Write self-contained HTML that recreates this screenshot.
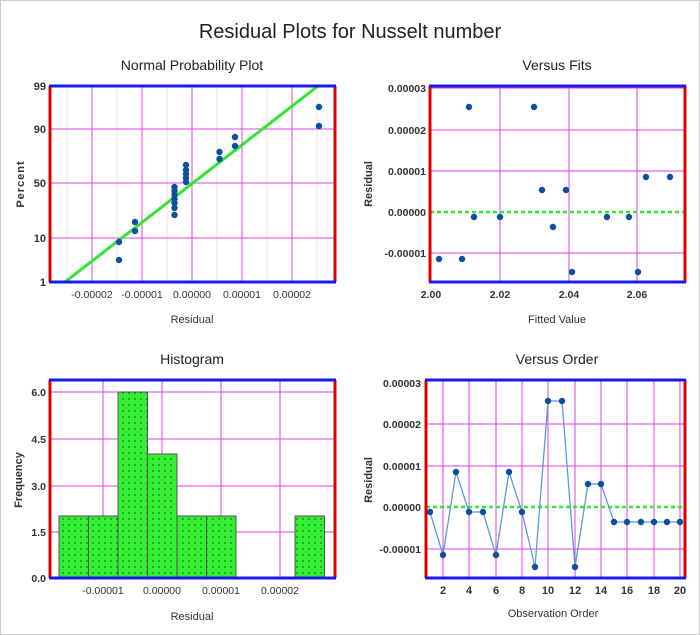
<!DOCTYPE html><html><head><style>body{margin:0;background:#fff}svg{display:block}</style></head><body>
<svg width="700" height="635" xmlns="http://www.w3.org/2000/svg" font-family="Liberation Sans, sans-serif">
<rect x="0.5" y="0.5" width="699" height="634" fill="#fff" stroke="#ccc"/>
<text x="350" y="38" font-size="20" text-anchor="middle" fill="#222">Residual Plots for Nusselt number</text>
<g font-size="14" text-anchor="middle" fill="#222">
<text x="192" y="70">Normal Probability Plot</text>
<text x="557" y="70">Versus Fits</text>
<text x="192" y="364">Histogram</text>
<text x="557" y="364">Versus Order</text>
</g>
<g font-size="11" text-anchor="middle" fill="#333">
<text x="192" y="323">Residual</text>
<text x="557" y="323">Fitted Value</text>
<text x="192" y="620">Residual</text>
<text x="553" y="617">Observation Order</text>
<text transform="translate(24,184) rotate(-90)" font-weight="bold" letter-spacing="1">Percent</text>
<text transform="translate(372,184) rotate(-90)" font-weight="bold">Residual</text>
<text transform="translate(22,480) rotate(-90)" font-weight="bold">Frequency</text>
<text transform="translate(372,480) rotate(-90)" font-weight="bold">Residual</text>
</g>
<!-- Panel 1 -->
<g stroke="#e4e4e4" stroke-width="1"><line x1="67" y1="86" x2="67" y2="282"/><line x1="117" y1="86" x2="117" y2="282"/><line x1="167" y1="86" x2="167" y2="282"/><line x1="217" y1="86" x2="217" y2="282"/><line x1="267" y1="86" x2="267" y2="282"/><line x1="317" y1="86" x2="317" y2="282"/></g>
<g stroke="#e040e0" stroke-width="1"><line x1="92" y1="86" x2="92" y2="282"/><line x1="142" y1="86" x2="142" y2="282"/><line x1="192" y1="86" x2="192" y2="282"/><line x1="242" y1="86" x2="242" y2="282"/><line x1="292" y1="86" x2="292" y2="282"/><line x1="50" y1="129" x2="335" y2="129"/><line x1="50" y1="183" x2="335" y2="183"/><line x1="50" y1="238" x2="335" y2="238"/></g>
<line x1="65" y1="282" x2="318" y2="86" stroke="#33e633" stroke-width="3"/>
<g fill="#0b4fa0"><circle cx="119" cy="242" r="3.2"/><circle cx="119" cy="260" r="3.2"/><circle cx="135" cy="222" r="3.2"/><circle cx="135" cy="231" r="3.2"/>
<circle cx="174.5" cy="187" r="3.2"/><circle cx="174.5" cy="191" r="3.2"/><circle cx="174.5" cy="195" r="3.2"/><circle cx="174.5" cy="199" r="3.2"/><circle cx="174.5" cy="203" r="3.2"/><circle cx="174.5" cy="208" r="3.2"/><circle cx="174.5" cy="215" r="3.2"/>
<circle cx="186" cy="165" r="3.2"/><circle cx="186" cy="170" r="3.2"/><circle cx="186" cy="174" r="3.2"/><circle cx="186" cy="178" r="3.2"/><circle cx="186" cy="182" r="3.2"/>
<circle cx="219.5" cy="152" r="3.2"/><circle cx="219.5" cy="159" r="3.2"/><circle cx="235" cy="137" r="3.2"/><circle cx="235" cy="146" r="3.2"/><circle cx="319" cy="107" r="3.2"/><circle cx="319" cy="126" r="3.2"/></g>
<line x1="50" y1="86" x2="50" y2="282" stroke="#d00" stroke-width="3"/><line x1="335" y1="86" x2="335" y2="282" stroke="#d00" stroke-width="3"/>
<line x1="49" y1="86" x2="336" y2="86" stroke="#1a1ae6" stroke-width="3"/><line x1="49" y1="282" x2="336" y2="282" stroke="#1a1ae6" stroke-width="3"/>
<g font-size="11" font-weight="bold" fill="#333" text-anchor="end"><text x="46" y="90">99</text><text x="46" y="133">90</text><text x="46" y="187">50</text><text x="46" y="242">10</text><text x="46" y="286">1</text></g>
<g font-size="10.5" fill="#333" text-anchor="middle"><text x="92" y="298">-0.00002</text><text x="142" y="298">-0.00001</text><text x="192" y="298">0.00000</text><text x="242" y="298">0.00001</text><text x="292" y="298">0.00002</text></g>
<!-- Panel 2 -->
<g stroke="#e040e0"><line x1="431" y1="86" x2="431" y2="282"/><line x1="500" y1="86" x2="500" y2="282"/><line x1="569" y1="86" x2="569" y2="282"/><line x1="637" y1="86" x2="637" y2="282"/><line x1="430" y1="88" x2="685" y2="88"/><line x1="430" y1="130" x2="685" y2="130"/><line x1="430" y1="171" x2="685" y2="171"/><line x1="430" y1="253" x2="685" y2="253"/></g>
<line x1="430" y1="212" x2="685" y2="212" stroke="#33e633" stroke-width="2.5" stroke-dasharray="4,3"/>
<g fill="#0b4fa0"><circle cx="439" cy="259" r="3.2"/><circle cx="462" cy="259" r="3.2"/><circle cx="469" cy="107" r="3.2"/><circle cx="474" cy="217" r="3.2"/><circle cx="500" cy="217" r="3.2"/><circle cx="534" cy="107" r="3.2"/><circle cx="542" cy="190" r="3.2"/><circle cx="553" cy="227" r="3.2"/><circle cx="566" cy="190" r="3.2"/><circle cx="572" cy="272" r="3.2"/><circle cx="607" cy="217" r="3.2"/><circle cx="629" cy="217" r="3.2"/><circle cx="638" cy="272" r="3.2"/><circle cx="646" cy="177" r="3.2"/><circle cx="670" cy="177" r="3.2"/></g>
<line x1="430" y1="86" x2="430" y2="282" stroke="#d00" stroke-width="3"/><line x1="685" y1="86" x2="685" y2="282" stroke="#d00" stroke-width="3"/>
<line x1="429" y1="86" x2="686" y2="86" stroke="#1a1ae6" stroke-width="3"/><line x1="429" y1="282" x2="686" y2="282" stroke="#1a1ae6" stroke-width="3"/>
<g font-size="10.5" font-weight="bold" fill="#333" text-anchor="end"><text x="426" y="92">0.00003</text><text x="426" y="134">0.00002</text><text x="426" y="175">0.00001</text><text x="426" y="216">0.00000</text><text x="426" y="257">-0.00001</text></g>
<g font-size="10.5" font-weight="bold" fill="#333" text-anchor="middle"><text x="431" y="298">2.00</text><text x="500" y="298">2.02</text><text x="569" y="298">2.04</text><text x="637" y="298">2.06</text></g>
<!-- Panel 3 -->
<g stroke="#e040e0"><line x1="103" y1="380" x2="103" y2="578"/><line x1="162" y1="380" x2="162" y2="578"/><line x1="221" y1="380" x2="221" y2="578"/><line x1="280" y1="380" x2="280" y2="578"/><line x1="50" y1="392" x2="335" y2="392"/><line x1="50" y1="439" x2="335" y2="439"/><line x1="50" y1="486" x2="335" y2="486"/><line x1="50" y1="532" x2="335" y2="532"/></g>
<defs><pattern id="dots" width="6" height="6" patternUnits="userSpaceOnUse"><rect width="6" height="6" fill="#33ee33"/><circle cx="3" cy="3" r="0.7" fill="#114411"/></pattern></defs>
<g fill="url(#dots)" stroke="#555" stroke-width="1"><rect x="59" y="516" width="29.5" height="62"/><rect x="88.5" y="516" width="29.5" height="62"/><rect x="118" y="392" width="29.5" height="186"/><rect x="147.5" y="454" width="29.5" height="124"/><rect x="177" y="516" width="29.5" height="62"/><rect x="206.5" y="516" width="29.5" height="62"/><rect x="295" y="516" width="29.5" height="62"/></g>
<line x1="50" y1="380" x2="50" y2="578" stroke="#d00" stroke-width="3"/><line x1="335" y1="380" x2="335" y2="578" stroke="#d00" stroke-width="3"/>
<line x1="49" y1="380" x2="336" y2="380" stroke="#1a1ae6" stroke-width="3"/><line x1="49" y1="578" x2="336" y2="578" stroke="#1a1ae6" stroke-width="3"/>
<g font-size="10.5" font-weight="bold" fill="#333" text-anchor="end"><text x="46" y="396">6.0</text><text x="46" y="443">4.5</text><text x="46" y="490">3.0</text><text x="46" y="536">1.5</text><text x="46" y="582">0.0</text></g>
<g font-size="10.5" fill="#333" text-anchor="middle"><text x="103" y="594">-0.00001</text><text x="162" y="594">0.00000</text><text x="221" y="594">0.00001</text><text x="280" y="594">0.00002</text></g>
<!-- Panel 4 -->
<g stroke="#e040e0"><line x1="443" y1="380" x2="443" y2="578"/><line x1="469" y1="380" x2="469" y2="578"/><line x1="496" y1="380" x2="496" y2="578"/><line x1="522" y1="380" x2="522" y2="578"/><line x1="548" y1="380" x2="548" y2="578"/><line x1="575" y1="380" x2="575" y2="578"/><line x1="601" y1="380" x2="601" y2="578"/><line x1="627" y1="380" x2="627" y2="578"/><line x1="654" y1="380" x2="654" y2="578"/><line x1="680" y1="380" x2="680" y2="578"/>
<line x1="426" y1="424" x2="685" y2="424"/><line x1="426" y1="466" x2="685" y2="466"/><line x1="426" y1="549" x2="685" y2="549"/></g>
<line x1="426" y1="507" x2="685" y2="507" stroke="#33e633" stroke-width="2.5" stroke-dasharray="4,3"/>
<polyline fill="none" stroke="#5b9bd5" stroke-width="1.3" points="430,512 443,555 456,472 469,512 483,512 496,555 509,472 522,512 535,567 548,401 562,401 575,567 588,484 601,484 614,522 627,522 641,522 654,522 667,522 680,522"/>
<g fill="#0b4fa0"><circle cx="430" cy="512" r="3.2"/><circle cx="443" cy="555" r="3.2"/><circle cx="456" cy="472" r="3.2"/><circle cx="469" cy="512" r="3.2"/><circle cx="483" cy="512" r="3.2"/><circle cx="496" cy="555" r="3.2"/><circle cx="509" cy="472" r="3.2"/><circle cx="522" cy="512" r="3.2"/><circle cx="535" cy="567" r="3.2"/><circle cx="548" cy="401" r="3.2"/><circle cx="562" cy="401" r="3.2"/><circle cx="575" cy="567" r="3.2"/><circle cx="588" cy="484" r="3.2"/><circle cx="601" cy="484" r="3.2"/><circle cx="614" cy="522" r="3.2"/><circle cx="627" cy="522" r="3.2"/><circle cx="641" cy="522" r="3.2"/><circle cx="654" cy="522" r="3.2"/><circle cx="667" cy="522" r="3.2"/><circle cx="680" cy="522" r="3.2"/></g>
<line x1="426" y1="380" x2="426" y2="578" stroke="#d00" stroke-width="3"/><line x1="685" y1="380" x2="685" y2="578" stroke="#d00" stroke-width="3"/>
<line x1="425" y1="380" x2="686" y2="380" stroke="#1a1ae6" stroke-width="3"/><line x1="425" y1="578" x2="686" y2="578" stroke="#1a1ae6" stroke-width="3"/>
<g font-size="10.5" font-weight="bold" fill="#333" text-anchor="end"><text x="421" y="387">0.00003</text><text x="421" y="428">0.00002</text><text x="421" y="470">0.00001</text><text x="421" y="511">0.00000</text><text x="421" y="553">-0.00001</text></g>
<g font-size="11" font-weight="bold" fill="#333" text-anchor="middle"><text x="443" y="594">2</text><text x="469" y="594">4</text><text x="496" y="594">6</text><text x="522" y="594">8</text><text x="548" y="594">10</text><text x="575" y="594">12</text><text x="601" y="594">14</text><text x="627" y="594">16</text><text x="654" y="594">18</text><text x="680" y="594">20</text></g>
</svg></body></html>
